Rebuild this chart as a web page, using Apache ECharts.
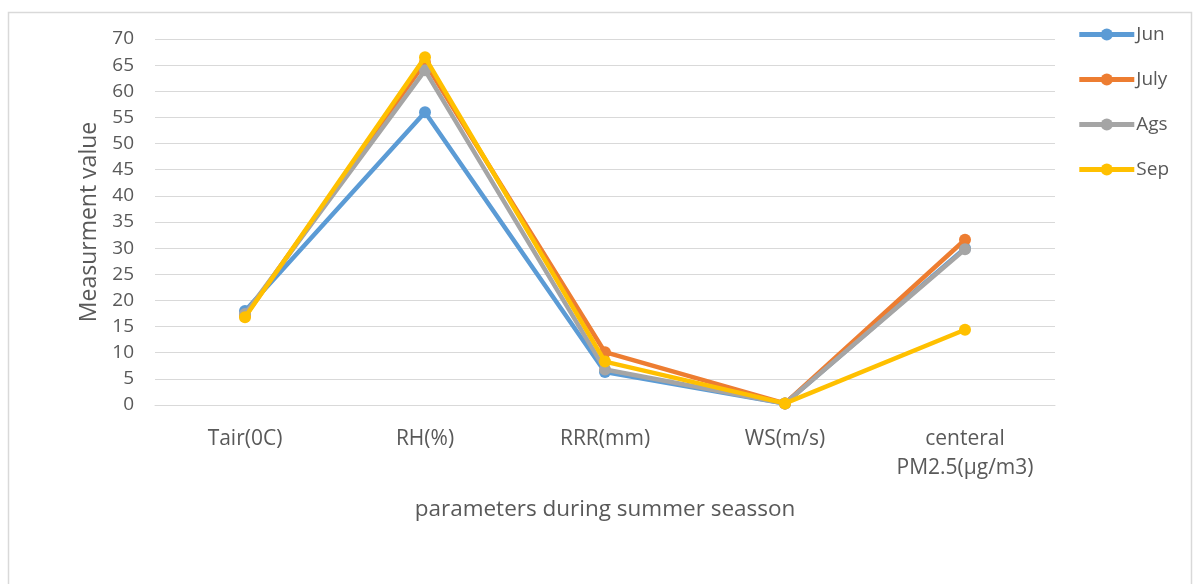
<!DOCTYPE html>
<html><head><meta charset="utf-8">
<script src="https://cdn.jsdelivr.net/npm/echarts@6/dist/echarts.min.js"></script>
<style>html,body{margin:0;padding:0;background:#fff}#c{width:1196px;height:584px}</style>
</head><body><div id="c"></div>
<script>
var categories = ['Tair(0C)', 'RH(%)', 'RRR(mm)', 'WS(m/s)', 'centeral\nPM2.5(µg/m3)'];
var jun = [18, 56, 6.3, 0.3, 30];
var july = [17, 65.5, 10.1, 0.3, 31.6];
var ags = [17.4, 64, 6.8, 0.3, 29.8];
var sep = [16.8, 66.5, 8.3, 0.3, 14.4];
var seriesNames = ['Jun', 'July', 'Ags', 'Sep'];
var colors = ['#5B9BD5', '#ED7D31', '#A5A5A5', '#FFC000'];
var yTicks = [0, 5, 10, 15, 20, 25, 30, 35, 40, 45, 50, 55, 60, 65, 70];

var FONT = 'Open Sans';
var chart = echarts.init(document.getElementById('c'), null, {renderer: 'canvas'});
var data = [jun, july, ags, sep];
var series = data.map(function (d, i) {
  return {
    name: seriesNames[i], type: 'line', data: d,
    symbol: 'circle', symbolSize: 12,
    lineStyle: {width: 4.5, color: colors[i]},
    itemStyle: {color: colors[i]},
    z: 2 + i
  };
});
chart.setOption({
  animation: false,
  textStyle: {fontFamily: FONT},
  graphic: [{
    type: 'rect', shape: {x: 8.5, y: 12.5, width: 1183, height: 600},
    style: {fill: 'none', stroke: '#d9d9d9', lineWidth: 1.5}, silent: true
  }],
  legend: {
    orient: 'vertical', right: 22, top: 20, itemGap: 26,
    itemWidth: 55, itemHeight: 15,
    lineStyle: {width: 5},
    textStyle: {fontSize: 19, color: '#595959', fontFamily: FONT, padding: [0, 0, 0, -3]},
    data: seriesNames
  },
  grid: {left: 155, right: 141, top: 39, bottom: 179},
  xAxis: {
    type: 'category', data: categories, boundaryGap: true,
    axisLine: {show: true, lineStyle: {color: '#d9d9d9'}}, axisTick: {show: false},
    axisLabel: {color: '#595959', fontSize: 21, margin: 20, lineHeight: 29, fontFamily: FONT},
    name: 'parameters during summer seasson', nameLocation: 'middle', nameGap: 93,
    nameTextStyle: {color: '#595959', fontSize: 22.5, fontFamily: FONT}
  },
  yAxis: {
    type: 'value', min: yTicks[0], max: yTicks[yTicks.length - 1], interval: 5,
    axisLine: {show: false}, axisTick: {show: false},
    splitLine: {lineStyle: {color: '#d9d9d9', width: 1}},
    axisLabel: {color: '#595959', fontSize: 19, margin: 21, fontFamily: FONT},
    name: 'Measurment value', nameLocation: 'middle', nameGap: 54, nameRotate: 90,
    nameTextStyle: {color: '#595959', fontSize: 23, fontFamily: FONT}
  },
  series: series
});
</script></body></html>
